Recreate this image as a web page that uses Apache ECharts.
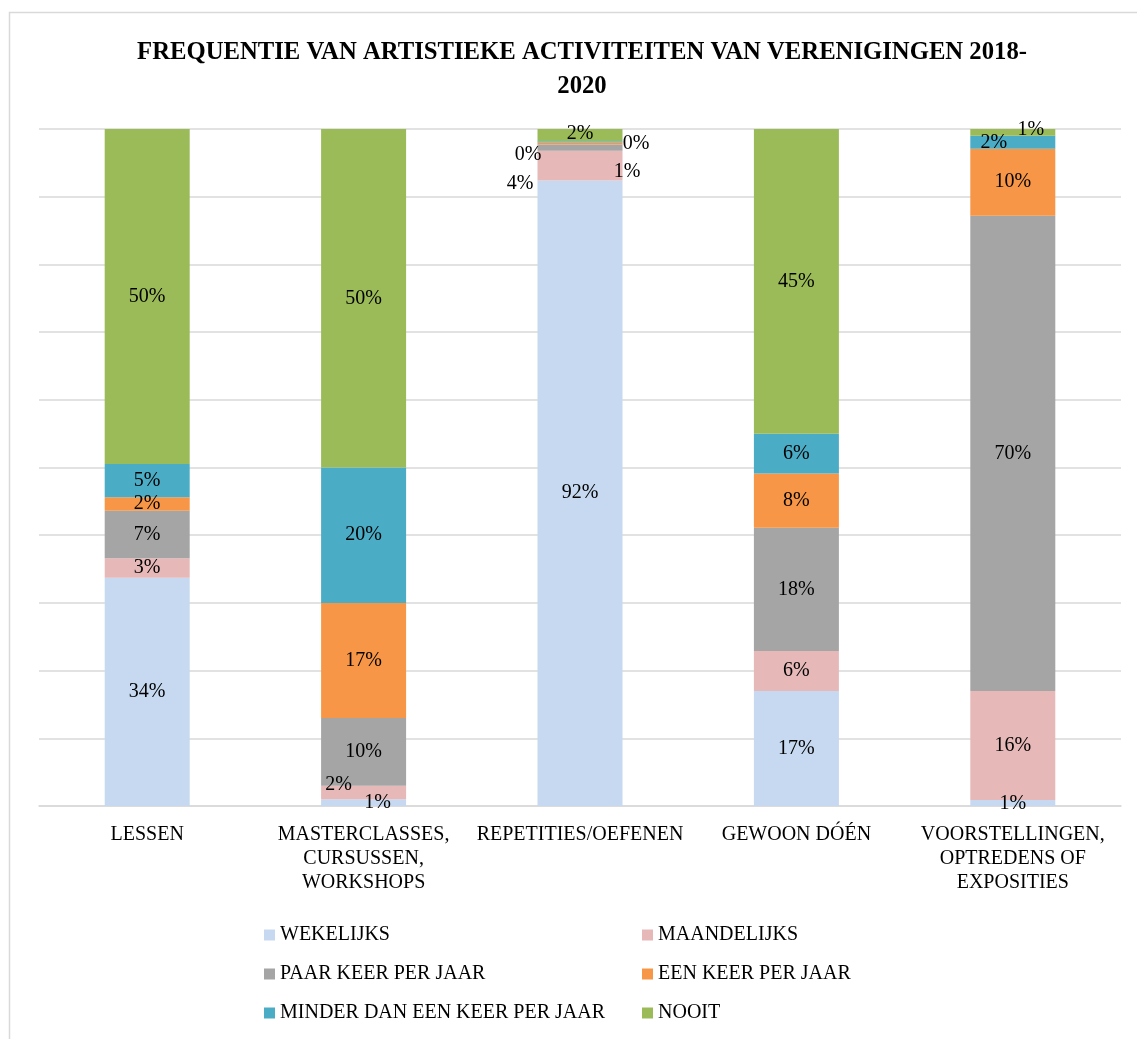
<!DOCTYPE html>
<html>
<head>
<meta charset="utf-8">
<script src="https://cdn.jsdelivr.net/npm/echarts@6/dist/echarts.min.js"></script>
<style>
  html, body { margin: 0; padding: 0; background: #fff; }
  #container { width: 1137px; height: 1039px; }
</style>
</head>
<body>
<div id="container"></div>
<script>
var categories = ['LESSEN', 'MASTERCLASSES,\nCURSUSSEN,\nWORKSHOPS', 'REPETITIES/OEFENEN', 'GEWOON DÓÉN', 'VOORSTELLINGEN,\nOPTREDENS OF\nEXPOSITIES'];
var seriesNames = ['WEKELIJKS', 'MAANDELIJKS', 'PAAR KEER PER JAAR', 'EEN KEER PER JAAR', 'MINDER DAN EEN KEER PER JAAR', 'NOOIT'];

// percentages per category
var wekelijks   = [33.7, 1.0, 92.4, 17.0, 0.9];
var maandelijks = [2.9, 2.0, 4.4, 5.9, 16.1];
var paarKeer    = [7.0, 10.0, 0.9, 18.2, 70.2];
var eenKeer     = [2.0, 17.0, 0.3, 8.0, 9.9];
var minderDan   = [4.9, 20.0, 0.2, 5.9, 1.9];
var nooit       = [49.5, 50.0, 1.8, 45.0, 1.0];

var colors = ['#c6d9f0', '#e6b9b8', '#a5a5a5', '#f79646', '#4bacc6', '#9bbb59'];
var allData = [wekelijks, maandelijks, paarKeer, eenKeer, minderDan, nooit];

// label nudges for the small segments [series-category] = [dx, dy]
var labelOffsets = {
    '0-1': [14, 0],
    '1-1': [-25, -8],
    '1-2': [-60, 18],
    '2-2': [47, 24],
    '3-2': [-52, 11],
    '4-2': [56, 2],
    '5-2': [0, -1],
    '4-4': [-19, 1],
    '5-4': [18, -3],
    '0-4': [0, 1]
};

var font = '"Liberation Serif", serif';

var chart = echarts.init(document.getElementById('container'));

var series = allData.map(function (values, s) {
    return {
        name: seriesNames[s],
        type: 'bar',
        stack: 'total',
        barWidth: 85,
        itemStyle: { color: colors[s] },
        label: {
            show: true,
            position: 'inside',
            color: '#000',
            fontFamily: font,
            fontSize: 20,
            formatter: function (p) {
                return Math.round(p.value) + '%';
            }
        },
        data: values.map(function (v, c) {
            var off = labelOffsets[s + '-' + c];
            if (off) {
                return { value: v, label: { offset: off } };
            }
            return v;
        })
    };
});

var option = {
    animation: false,
    title: {
        text: 'FREQUENTIE VAN ARTISTIEKE ACTIVITEITEN VAN VERENIGINGEN 2018-\n2020',
        left: 577,
        textAlign: 'center',
        top: 31,
        textStyle: {
            fontFamily: font,
            fontWeight: 'bold',
            fontSize: 24.7,
            lineHeight: 34,
            color: '#000'
        }
    },
    graphic: [{
        type: 'rect',
        shape: { x: 9.5, y: 12.5, width: 1140, height: 1040 },
        style: { fill: 'none', stroke: '#d9d9d9', lineWidth: 1.5 },
        silent: true
    }],
    legend: [{
        orient: 'vertical',
        left: 259,
        top: 919,
        itemWidth: 11,
        itemHeight: 11,
        itemGap: 17,
        icon: 'rect',
        data: [seriesNames[0], seriesNames[2], seriesNames[4]],
        textStyle: { fontFamily: font, fontSize: 20, color: '#000', lineHeight: 22 }
    }, {
        orient: 'vertical',
        left: 637,
        top: 919,
        itemWidth: 11,
        itemHeight: 11,
        itemGap: 17,
        icon: 'rect',
        data: [seriesNames[1], seriesNames[3], seriesNames[5]],
        textStyle: { fontFamily: font, fontSize: 20, color: '#000', lineHeight: 22 }
    }],
    grid: {
        left: 39,
        right: 16,
        top: 129,
        bottom: 233,
        containLabel: false
    },
    xAxis: {
        type: 'category',
        data: categories,
        axisTick: { show: false },
        axisLine: { lineStyle: { color: '#d9d9d9', width: 1.5 } },
        axisLabel: {
            interval: 0,
            margin: 17,
            fontFamily: font,
            fontSize: 20,
            lineHeight: 24,
            color: '#000'
        }
    },
    yAxis: {
        type: 'value',
        min: 0,
        max: 100,
        interval: 10,
        axisLabel: { show: false },
        axisLine: { show: false },
        axisTick: { show: false },
        splitLine: { lineStyle: { color: '#d9d9d9', width: 1.5 } }
    },
    series: series
};

chart.setOption(option);

window.addEventListener('resize', function () {
    chart.resize();
});
</script>
</body>
</html>
